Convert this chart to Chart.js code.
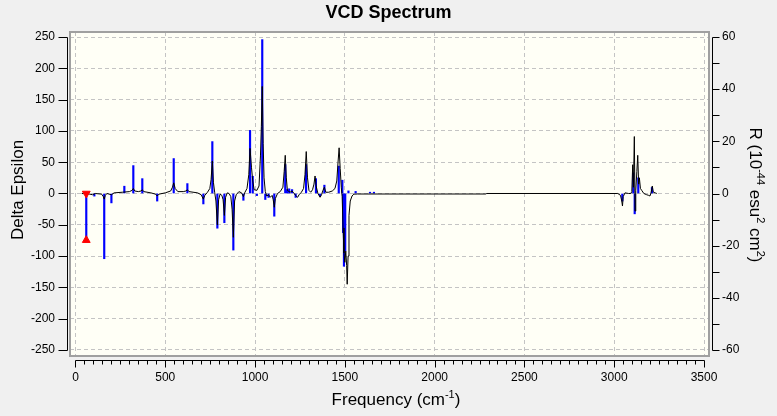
<!DOCTYPE html>
<html>
<head>
<meta charset="utf-8">
<title>VCD Spectrum</title>
<script src="https://cdn.jsdelivr.net/npm/chart.js@4.4.1/dist/chart.umd.min.js"></script>
<style>
  html, body { margin: 0; padding: 0; background: #f0f0f0; }
  #wrap { width: 777px; height: 416px; position: relative; }
</style>
</head>
<body>
<div id="wrap"><canvas id="myChart"></canvas></div>
<script>
// tick labels
const xTicks = [0, 500, 1000, 1500, 2000, 2500, 3000, 3500];
const leftTicks = [-250, -200, -150, -100, -50, 0, 50, 100, 150, 200, 250];
const rightTicks = [-60, -40, -20, 0, 20, 40, 60];

// broadened spectrum (Delta Epsilon)
const curveFreq = [35, 80, 95, 110, 145, 155, 160, 166, 175, 200, 215, 260, 300, 315, 322, 330, 350, 365, 372, 380,
  420, 445, 455, 465, 500, 530, 540, 547, 555, 570, 600, 615, 623, 632, 680, 700, 712, 720, 735, 748,
  755, 762, 768, 775, 782, 790, 797, 805, 815, 822, 829, 836, 845, 855, 865, 872, 879, 886, 895, 910,
  925, 935, 942, 955, 965, 972, 980, 987, 995, 1010, 1022, 1030, 1035, 1040, 1045, 1050, 1057, 1065, 1075, 1085,
  1095, 1101, 1107, 1113, 1125, 1140, 1155, 1162, 1168, 1174, 1180, 1195, 1206, 1215, 1225, 1237, 1245, 1258, 1270, 1278,
  1285, 1292, 1300, 1310, 1320, 1328, 1334, 1340, 1350, 1362, 1370, 1378, 1386, 1394, 1410, 1430, 1445, 1455, 1462, 1468,
  1474, 1480, 1485, 1490, 1495, 1500, 1505, 1510, 1513, 1518, 1523, 1530, 1540, 1550, 1570, 2284, 2290, 3020, 3035, 3042,
  3046, 3050, 3060, 3080, 3092, 3098, 3103, 3107, 3112, 3116, 3120, 3126, 3131, 3136, 3140, 3146, 3153, 3165, 3181, 3192,
  3199, 3206, 3212, 3218, 3228, 3237];
const curveEps = [0, -1, -2, 0, -1, -5, -9, -3, 0, -2, 1, 2, 3, 5, 8, 4, 3, 4, 6, 3,
  1, -1, -4, -1, 1, 4, 10, 17, 8, 3, 3, 4, 6, 3, 1, -2, -9, -3, 2, 8,
  22, 52, 18, 2, -12, -50, -10, -1, -3, -10, -35, -6, 1, 0, -5, -25, -70, -12, -2, 3,
  1, -5, 1, 8, 30, 72, 42, 20, 6, 5, 12, 60, 107, 171, 80, 25, 3, -4, -2, -6,
  -3, -10, -22, -8, 0, 3, 10, 35, 61, 25, 5, 2, 4, 1, -3, -6, -2, 2, 8, 30,
  67, 25, 5, 2, 6, 15, 28, 12, 0, -6, -2, 5, 10, 2, 2, 4, 8, 20, 50, 73,
  40, 10, -5, -55, -95, -110, -92, -115, -145, -100, -35, -12, -4, -1, -0.8, -0.8, 0, 0, -3, -12,
  -20, -5, 1, 0, 0, 3, 46, 10, 91, -28, 5, 35, 61, 15, 25, 8, 5, 0, -2, -3,
  -4, 2, 12, 2, 1, 0];

// rotational strengths (R, 10^-44 esu^2 cm^2)
const stickFreq = [60, 105, 160, 200, 272, 322, 372, 455, 547, 623, 712, 762, 790, 829, 879, 935, 972, 987, 1010, 1040,
  1057, 1075, 1107, 1168, 1178, 1190, 1206, 1226, 1284, 1339, 1362, 1386, 1466, 1486, 1490, 1495, 1502, 1520, 1560, 1640,
  1662, 3045, 3106, 3114, 3134, 3210];
const stickR = [-17.9, -1.0, -25.0, -3.6, 2.8, 10.7, 5.7, -2.9, 13.4, 3.8, -4.0, 19.9, -13.3, -11.2, -21.7, -2.6, 24.2, 6.6, -0.8, 59.0,
  -2.3, -1.5, -8.7, 11.1, 1.5, 1.8, 1.5, -1.5, 11.1, 5.7, -1.0, 3.2, 10.5, 5.1, -15.0, -27.9, -22.0, 1.0, 0.8, 0.5,
  0.5, -2.9, 7.9, -7.8, 6.0, 2.3];

// selected peak markers
const markFreq = [60, 60];
const markR = [0, -17.9];

const fontFamily = "'Liberation Sans', Arial, sans-serif";

const curve = curveFreq.map((f, i) => ({x: f, y: curveEps[i]}));
const sticks = stickFreq.map((f, i) => ({x: f, y: stickR[i]}));
const marks = markFreq.map((f, i) => ({x: f, y: markR[i]}));

function drawRich(ctx, parts, size, supSize) {
  // parts: [text, isSup]
  let w = 0;
  parts.forEach(p => {
    ctx.font = (p[1] ? supSize : size) + "px " + fontFamily;
    w += ctx.measureText(p[0]).width;
  });
  let x = -w / 2;
  parts.forEach(p => {
    ctx.font = (p[1] ? supSize : size) + "px " + fontFamily;
    ctx.fillText(p[0], x, p[1] ? -7 : 0);
    x += ctx.measureText(p[0]).width;
  });
}

const frame = {
  id: 'frame',
  beforeDraw(chart) {
    const {ctx, chartArea: a} = chart;
    ctx.save();
    ctx.fillStyle = '#fffff6';
    ctx.fillRect(a.left, a.top, a.right - a.left, a.bottom - a.top);
    ctx.restore();
  },
  afterDraw(chart) {
    const {ctx, chartArea: a, scales} = chart;
    ctx.save();
    // plot box
    ctx.strokeStyle = '#a0a0a0';
    ctx.lineWidth = 2;
    ctx.strokeRect(a.left, a.top, a.right - a.left, a.bottom - a.top);

    ctx.strokeStyle = '#000';
    ctx.lineWidth = 1;
    ctx.beginPath();
    // left axis
    const lx = Math.round(a.left - 3) + 0.5;
    const yTop = Math.round(scales.y.getPixelForValue(250)) + 0.5;
    const yBot = Math.round(scales.y.getPixelForValue(-250)) + 0.5;
    ctx.moveTo(lx, yTop); ctx.lineTo(lx, yBot);
    leftTicks.forEach(v => {
      const py = Math.round(scales.y.getPixelForValue(v)) + 0.5;
      ctx.moveTo(lx - 9, py); ctx.lineTo(lx, py);
    });
    // right axis
    const rx = Math.round(a.right + 3) + 0.5;
    ctx.moveTo(rx, Math.round(scales.y2.getPixelForValue(60)) + 0.5);
    ctx.lineTo(rx, Math.round(scales.y2.getPixelForValue(-60)) + 0.5);
    for (let v = -60; v <= 60; v += 10) {
      const py = Math.round(scales.y2.getPixelForValue(v)) + 0.5;
      ctx.moveTo(rx, py); ctx.lineTo(rx + 7, py);
    }
    // bottom axis
    const by = Math.round(a.bottom + 4) + 0.5;
    ctx.moveTo(Math.round(scales.x.getPixelForValue(0)) + 0.5, by);
    ctx.lineTo(Math.round(scales.x.getPixelForValue(3500)) + 0.5, by);
    for (let v = 0; v <= 3500; v += 50) {
      const px = Math.round(scales.x.getPixelForValue(v)) + 0.5;
      ctx.moveTo(px, by); ctx.lineTo(px, by + (v % 500 === 0 ? 7 : 4));
    }
    ctx.stroke();

    // axis titles
    ctx.fillStyle = '#000';
    ctx.textBaseline = 'alphabetic';
    ctx.textAlign = 'left';

    ctx.save();
    ctx.translate(23, 190);
    ctx.rotate(-Math.PI / 2);
    drawRich(ctx, [['Delta Epsilon', false]], 17, 11);
    ctx.restore();

    ctx.save();
    ctx.translate(396, 405);
    drawRich(ctx, [['Frequency (cm', false], ['-1', true], [')', false]], 17, 11);
    ctx.restore();

    ctx.save();
    ctx.translate(750, 195);
    ctx.rotate(Math.PI / 2);
    drawRich(ctx, [['R (10', false], ['-44', true], [' esu', false], ['2', true], [' cm', false], ['2', true], [')', false]], 17, 11);
    ctx.restore();

    ctx.restore();
  }
};

const tickFont = {family: fontFamily, size: 12};

const ctx = document.getElementById('myChart').getContext('2d');
let myChart = new Chart(ctx, {
  type: 'line',
  data: {
    datasets: [
      {
        type: 'line',
        data: marks,
        yAxisID: 'y2',
        showLine: false,
        pointStyle: 'triangle',
        pointRadius: 4.5,
        pointRotation: c => (c.dataIndex === 0 ? 180 : 0),
        pointBackgroundColor: '#ff0000',
        pointBorderColor: '#ff0000',
        pointBorderWidth: 1,
        order: 0
      },
      {
        type: 'line',
        data: curve,
        yAxisID: 'y',
        borderColor: '#000000',
        borderWidth: 1,
        pointRadius: 0,
        tension: 0,
        order: 1
      },
      {
        type: 'bar',
        data: sticks,
        yAxisID: 'y2',
        backgroundColor: '#0000ff',
        borderWidth: 0,
        barThickness: 1.5,
        order: 2
      }
    ]
  },
  options: {
    animation: false,
    responsive: true,
    maintainAspectRatio: false,
    layout: {padding: 0},
    plugins: {
      legend: {display: false},
      tooltip: {enabled: false},
      title: {
        display: true,
        text: 'VCD Spectrum',
        color: '#000',
        font: {family: fontFamily, size: 18, weight: 'bold'},
        padding: {top: 2, bottom: 8.4}
      }
    },
    scales: {
      x: {
        type: 'linear',
        position: 'bottom',
        min: -30.6,
        max: 3527.8,
        offset: false,
        afterBuildTicks: s => { s.ticks = xTicks.map(v => ({value: v})); },
        afterFit: s => { s.height = 60; },
        grid: {color: '#c4c4c4', lineWidth: 1, drawTicks: false, offset: false},
        border: {display: false, dash: [4, 3]},
        ticks: {color: '#000', font: tickFont, padding: 14, maxRotation: 0, autoSkip: false,
          callback: v => String(v)}
      },
      y: {
        type: 'linear',
        position: 'left',
        min: -259.6,
        max: 258,
        afterBuildTicks: s => { s.ticks = leftTicks.map(v => ({value: v})); },
        afterFit: s => { s.width = 70; },
        grid: {color: '#c4c4c4', lineWidth: 1, drawTicks: false},
        border: {display: false, dash: [4, 3]},
        ticks: {color: '#000', font: tickFont, padding: 15, autoSkip: false,
          callback: v => String(v)}
      },
      y2: {
        type: 'linear',
        position: 'right',
        min: -62.3,
        max: 61.92,
        afterBuildTicks: s => { s.ticks = rightTicks.map(v => ({value: v})); },
        afterFit: s => { s.width = 68; },
        grid: {drawOnChartArea: false, drawTicks: false},
        border: {display: false},
        ticks: {color: '#000', font: tickFont, padding: 13, autoSkip: false,
          callback: v => String(v)}
      }
    }
  },
  plugins: [frame]
});
</script>
</body>
</html>
